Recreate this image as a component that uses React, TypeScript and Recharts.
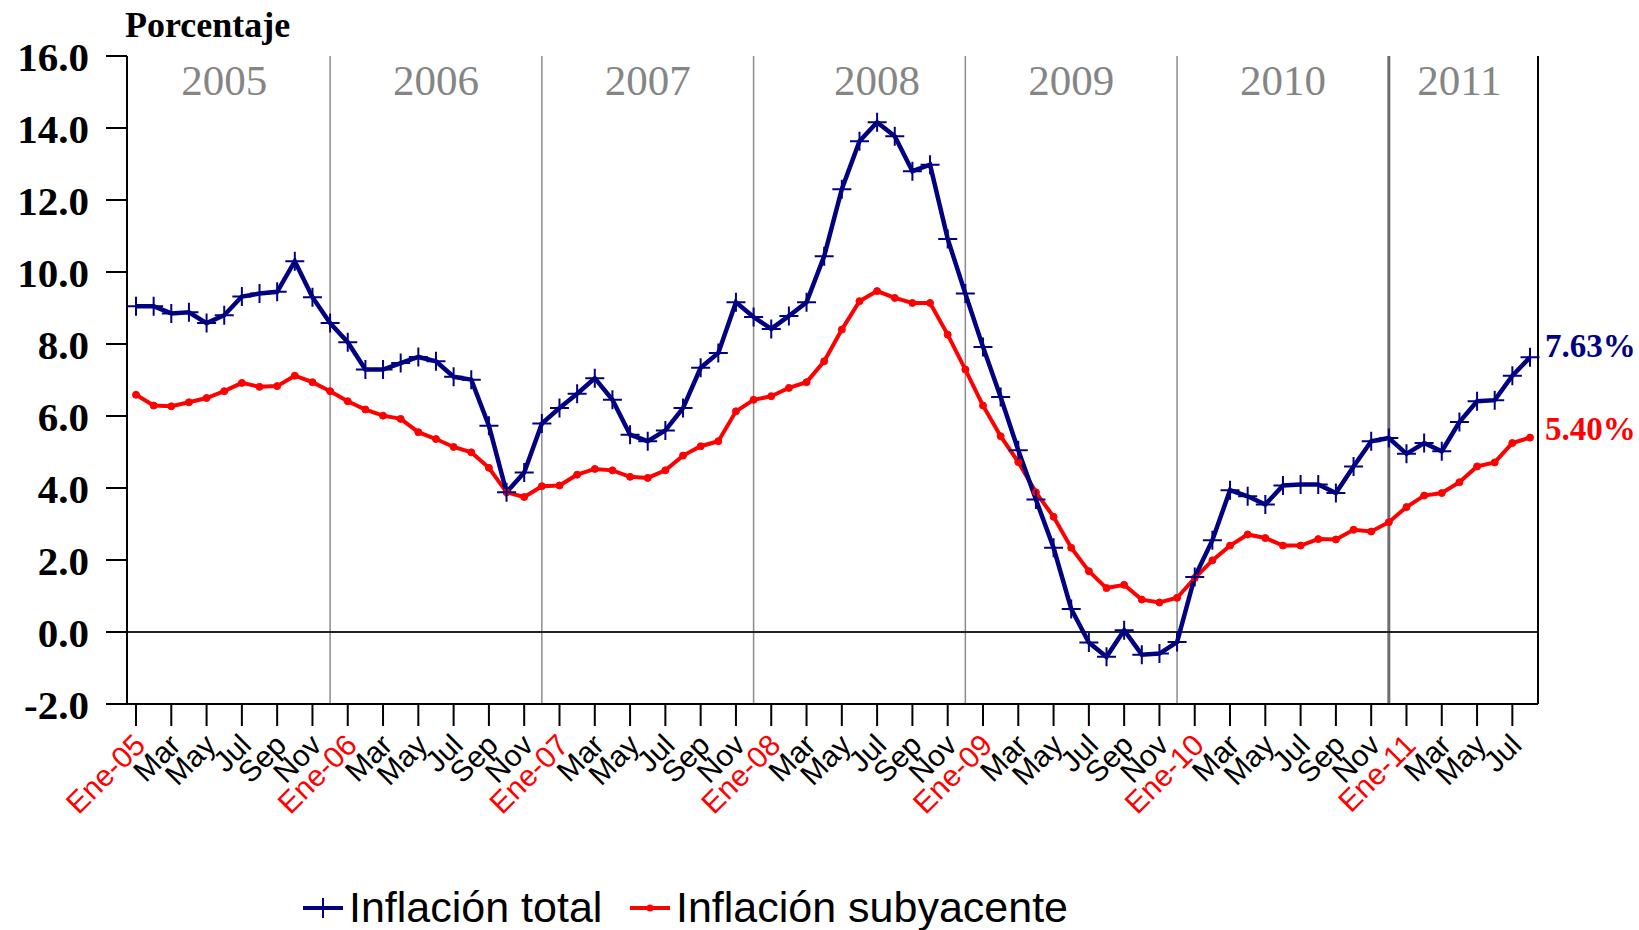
import React from 'react'
import {
  LineChart, Line, XAxis, YAxis, ReferenceLine,
} from 'recharts'

const serif = '"Liberation Serif", "Times New Roman", serif'
const sans = '"Liberation Sans", Arial, sans-serif'

const meses = [
  'Ene-05', 'Feb-05', 'Mar-05', 'Abr-05', 'May-05', 'Jun-05', 'Jul-05', 'Ago-05', 'Sep-05', 'Oct-05', 'Nov-05', 'Dic-05',
  'Ene-06', 'Feb-06', 'Mar-06', 'Abr-06', 'May-06', 'Jun-06', 'Jul-06', 'Ago-06', 'Sep-06', 'Oct-06', 'Nov-06', 'Dic-06',
  'Ene-07', 'Feb-07', 'Mar-07', 'Abr-07', 'May-07', 'Jun-07', 'Jul-07', 'Ago-07', 'Sep-07', 'Oct-07', 'Nov-07', 'Dic-07',
  'Ene-08', 'Feb-08', 'Mar-08', 'Abr-08', 'May-08', 'Jun-08', 'Jul-08', 'Ago-08', 'Sep-08', 'Oct-08', 'Nov-08', 'Dic-08',
  'Ene-09', 'Feb-09', 'Mar-09', 'Abr-09', 'May-09', 'Jun-09', 'Jul-09', 'Ago-09', 'Sep-09', 'Oct-09', 'Nov-09', 'Dic-09',
  'Ene-10', 'Feb-10', 'Mar-10', 'Abr-10', 'May-10', 'Jun-10', 'Jul-10', 'Ago-10', 'Sep-10', 'Oct-10', 'Nov-10', 'Dic-10',
  'Ene-11', 'Feb-11', 'Mar-11', 'Abr-11', 'May-11', 'Jun-11', 'Jul-11', 'Ago-11',
]

const inflacionTotal = [
  9.05, 9.05, 8.85, 8.88, 8.58, 8.8, 9.32, 9.4, 9.45, 10.3, 9.3, 8.58,
  8.05, 7.29, 7.29, 7.47, 7.64, 7.52, 7.09, 7.01, 5.73, 3.88, 4.43, 5.79,
  6.22, 6.62, 7.05, 6.45, 5.48, 5.3, 5.6, 6.22, 7.34, 7.75, 9.16, 8.75,
  8.42, 8.78, 9.16, 10.44, 12.3, 13.63, 14.16, 13.77, 12.8, 12.98, 10.92, 9.4,
  7.92, 6.53, 5.05, 3.68, 2.34, 0.64, -0.29, -0.69, 0.05, -0.63, -0.6, -0.28,
  1.53, 2.55, 3.94, 3.77, 3.54, 4.07, 4.1, 4.1, 3.86, 4.6, 5.3, 5.39,
  4.95, 5.25, 5.02, 5.83, 6.41, 6.44, 7.12, 7.63,
]

const inflacionSubyacente = [
  6.59, 6.29, 6.27, 6.38, 6.5, 6.69, 6.92, 6.81, 6.83, 7.12, 6.94, 6.69,
  6.41, 6.18, 6.01, 5.92, 5.55, 5.36, 5.14, 4.99, 4.56, 3.88, 3.75, 4.05,
  4.07, 4.37, 4.53, 4.49, 4.31, 4.28, 4.49, 4.9, 5.16, 5.3, 6.13, 6.45,
  6.55, 6.78, 6.94, 7.52, 8.4, 9.19, 9.47, 9.28, 9.14, 9.14, 8.26, 7.29,
  6.29, 5.44, 4.72, 3.88, 3.2, 2.34, 1.69, 1.22, 1.31, 0.9, 0.82, 0.95,
  1.5, 1.99, 2.4, 2.71, 2.61, 2.4, 2.4, 2.58, 2.57, 2.84, 2.79, 3.05,
  3.47, 3.79, 3.86, 4.16, 4.6, 4.71, 5.25, 5.4,
]

const yTicks = [-2, 0, 2, 4, 6, 8, 10, 12, 14, 16]

// year captions and the month each one is centred on
const anios = ['2005', '2006', '2007', '2008', '2009', '2010', '2011']
const aniosEn = ['Jun-05', 'Jun-06', 'Jun-07', 'Jul-08', 'Jun-09', 'Jun-10', 'Abr-11']
const separadores = ['Dic-05', 'Dic-06', 'Dic-07', 'Dic-08', 'Dic-09', 'Dic-10']

const data = meses.map((mes, i) => ({
  mes,
  total: inflacionTotal[i],
  subyacente: inflacionSubyacente[i],
}))

const AZUL = '#000080'
const ROJO = '#ff0000'

function MesTick(props: any) {
  const { x, y, payload } = props
  const v: string = payload.value
  const esEnero = v.startsWith('Ene')
  return (
    <g transform={`translate(${x + 11},${y + 19}) rotate(-45)`}>
      <text
        x={0}
        y={0}
        textAnchor="end"
        fontFamily={sans}
        fontSize={30}
        fill={esEnero ? ROJO : '#000'}
      >
        {esEnero ? v : v.slice(0, 3)}
      </text>
    </g>
  )
}

function Cruz(props: any) {
  const { cx, cy, index } = props
  if (cx == null || cy == null) return <g key={index} />
  return (
    <path
      key={index}
      d={`M${cx - 9.5},${cy}H${cx + 9.5}M${cx},${cy - 9.5}V${cy + 9.5}`}
      stroke={AZUL}
      strokeWidth={2}
    />
  )
}

function UltimoValor(color: string, texto: string, dy: number) {
  return (props: any) => {
    const { x, y, index } = props
    if (index !== meses.length - 1) return null
    return (
      <text
        key="ultimo"
        x={x + 15}
        y={y + dy}
        fill={color}
        fontFamily={serif}
        fontWeight="bold"
        fontSize={33}
      >
        {texto}
      </text>
    )
  }
}

function LeyendaItem({ tipo, texto, left }: { tipo: 'cruz' | 'punto'; texto: string; left: number }) {
  const color = tipo === 'cruz' ? AZUL : ROJO
  return (
    <span style={{ position: 'absolute', left, top: 0, display: 'inline-flex', alignItems: 'center', height: 43 }}>
      <svg width={40} height={24} style={{ marginRight: 6 }}>
        <line x1={0} y1={12} x2={40} y2={12} stroke={color} strokeWidth={4} />
        {tipo === 'cruz'
          ? <path d="M20,2V22" stroke={color} strokeWidth={2} />
          : <circle cx={20} cy={12} r={3.5} fill={color} />}
      </svg>
      <span>{texto}</span>
    </span>
  )
}

export default function App() {
  return (
    <div style={{ position: 'absolute', left: 0, top: 0, width: 1639, height: 930, background: '#fff' }}>
      <div
        style={{
          position: 'absolute', left: 125, top: 7, fontFamily: serif,
          fontWeight: 'bold', fontSize: 36, lineHeight: '36px', color: '#000',
        }}
      >
        Porcentaje
      </div>
      <LineChart
        width={1639}
        height={930}
        data={data}
        margin={{ top: 56, right: 100, bottom: 0, left: 0 }}
      >
        <XAxis
          dataKey="mes"
          interval={1}
          height={226}
          padding={{ left: 9, right: 8 }}
          tickSize={22}
          axisLine={{ stroke: '#000', strokeWidth: 2 }}
          tickLine={{ stroke: '#000', strokeWidth: 2 }}
          tick={(p: any) => <MesTick {...p} />}
        />
        {/* top frame line */}
        <XAxis
          xAxisId="sup"
          orientation="top"
          dataKey="mes"
          height={0}
          tick={false}
          tickLine={false}
          axisLine={{ stroke: '#000', strokeWidth: 2 }}
        />
        <YAxis
          domain={[-2, 16]}
          ticks={yTicks}
          interval={0}
          allowDataOverflow
          width={127}
          tickSize={21}
          tickMargin={17}
          tickFormatter={(v: number) => v.toFixed(1)}
          axisLine={{ stroke: '#000', strokeWidth: 2 }}
          tickLine={{ stroke: '#000', strokeWidth: 2 }}
          tick={{ fill: '#000', fontSize: 41, fontWeight: 'bold', fontFamily: serif }}
        />
        {/* right frame line */}
        <YAxis
          yAxisId="der"
          orientation="right"
          domain={[-2, 16]}
          width={1}
          tick={false}
          tickLine={false}
          axisLine={{ stroke: '#000', strokeWidth: 2 }}
        />
        {separadores.map((s, i) => (
          <ReferenceLine
            key={s}
            x={s}
            stroke={i === separadores.length - 1 ? '#6e6e6e' : '#8c8c8c'}
            strokeWidth={i === separadores.length - 1 ? 3 : 1.5}
          />
        ))}
        {anios.map((a, i) => (
          <ReferenceLine
            key={a}
            x={aniosEn[i]}
            stroke="none"
            label={{ value: a, position: 'insideTop', offset: 8, fill: '#858585', fontSize: 43, fontFamily: serif }}
          />
        ))}
        <ReferenceLine y={0} stroke="#222" strokeWidth={2} />
        <Line
          dataKey="subyacente"
          type="linear"
          stroke={ROJO}
          strokeWidth={4}
          dot={{ r: 3.5, fill: ROJO, stroke: ROJO, strokeWidth: 1 }}
          activeDot={false}
          isAnimationActive={false}
          label={UltimoValor(ROJO, '5.40%', 2)}
        />
        <Line
          dataKey="total"
          type="linear"
          stroke={AZUL}
          strokeWidth={4.5}
          dot={(p: any) => <Cruz key={p.index} {...p} />}
          activeDot={false}
          isAnimationActive={false}
          label={UltimoValor(AZUL, '7.63%', 0)}
        />
      </LineChart>
      <div
        style={{
          position: 'absolute', left: 0, top: 886, width: 1639, height: 43, lineHeight: '43px',
          fontFamily: sans, fontSize: 43, color: '#000', whiteSpace: 'nowrap',
        }}
      >
        <LeyendaItem tipo="cruz" texto="Inflación total" left={303} />
        <LeyendaItem tipo="punto" texto="Inflación subyacente" left={630} />
      </div>
    </div>
  )
}
